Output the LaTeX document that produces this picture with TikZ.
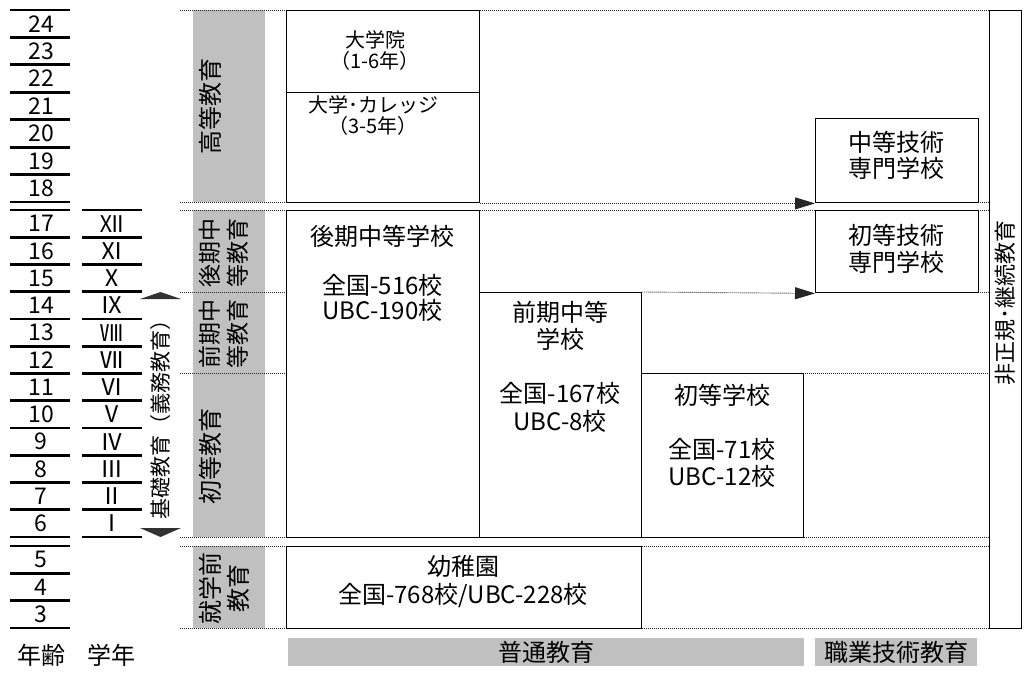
\documentclass[tikz,border=0pt]{standalone}
\usepackage{fontspec}
\setmainfont{Noto Sans CJK JP}
\usetikzlibrary{arrows.meta}
\definecolor{band}{RGB}{192,192,192}
\definecolor{arrowgray}{RGB}{50,50,50}
\begin{document}
\begin{tikzpicture}[x=1pt,y=-1pt,
  box/.style={draw=black,line width=1.4pt,inner sep=0pt,anchor=north west},
  bandbox/.style={fill=band,draw=none,inner sep=0pt,anchor=north west},
  dots/.style={draw=black!85,line width=0.9pt,dash pattern=on 0.9pt off 1.1pt},
  ageline/.style={line width=2.8pt},
  num/.style={font=\fontsize{23}{26}\selectfont,inner sep=0pt},
  txt/.style={font=\fontsize{24}{26.5}\selectfont,align=center,inner sep=0pt},
  smalltxt/.style={font=\fontsize{20}{21}\selectfont,align=center,inner sep=0pt},
  vtxt/.style={font=\fontsize{23}{28}\selectfont,align=center,inner sep=0pt,rotate=90},
  tip/.style={-{Triangle[length=20pt,width=12pt]}}]
\useasboundingbox (0,0) rectangle (1033,675);

% gray bands
\node[bandbox,minimum width=72pt,minimum height=192pt] (bandA) at (193,10) {};
\node[bandbox,minimum width=72pt,minimum height=327pt] (bandB) at (193,210) {};
\node[bandbox,minimum width=72pt,minimum height=82pt] (bandC) at (193,546) {};
\node[bandbox,minimum width=516pt,minimum height=28pt] (bandG) at (288,638) {};
\node[bandbox,minimum width=162pt,minimum height=28pt] (bandV) at (815,638) {};

% age column
\foreach \a [count=\i from 0] in {24,23,22,21,20,19,18}
  \node[num] (age\a) at (41,{10+27.43*(\i+0.5)}) {\a};
\foreach \i in {0,...,7}
  \draw[ageline] (10,{10+27.43*\i}) -- (70,{10+27.43*\i});
\foreach \a [count=\i from 0] in {17,16,15,14,13,12,11,10,9,8,7,6}
  \node[num] (age\a) at (41,{210+27.25*(\i+0.5)}) {\a};
\foreach \g [count=\i from 0] in {Ⅻ,Ⅺ,Ⅹ,Ⅸ,Ⅷ,Ⅶ,Ⅵ,Ⅴ,Ⅳ,Ⅲ,Ⅱ,Ⅰ}
  \node[num] (grade\i) at (112,{210+27.25*(\i+0.5)}) {\g};
\foreach \i in {0,...,12}{
  \draw[ageline] (10,{210+27.25*\i}) -- (70,{210+27.25*\i});
  \draw[ageline] (82,{210+27.25*\i}) -- (142,{210+27.25*\i});}
\foreach \a [count=\i from 0] in {5,4,3}
  \node[num] (age\a) at (41,{546+27.33*(\i+0.5)}) {\a};
\foreach \i in {0,...,3}
  \draw[ageline] (10,{546+27.33*\i}) -- (70,{546+27.33*\i});
\node[txt] (nenrei) at (41,655) {年齢};
\node[txt] (gakunen) at (111,655) {学年};

% compulsory education arrow
\fill[arrowgray] (140,299) -- (181,299) -- (160.5,292) -- cycle;
\fill[arrowgray] (140,528) -- (181,528) -- (160.5,537) -- cycle;
\node[font=\fontsize{21}{24}\selectfont,inner sep=0pt,rotate=90] (kiso) at (160.5,414) {基礎教育（義務教育）};

% dotted guide lines
\draw[dots] (180,10) -- (989,10);
\draw[dots] (180,202) -- (286,202);
\draw[dots] (978,202) -- (989,202);
\draw[dots] (180,210) -- (989,210);
\draw[dots] (180,292) -- (286,292);
\draw[dots] (978,292) -- (989,292);
\draw[dots] (180,373) -- (286,373);
\draw[dots] (803,373) -- (989,373);
\draw[dots] (180,537) -- (989,537);
\draw[dots] (180,546) -- (989,546);
\draw[dots] (180,628) -- (989,628);

% boxes
\node[box,minimum width=193pt,minimum height=82pt] (daigakuin) at (286,10) {};
\node[box,minimum width=193pt,minimum height=110pt] (daigaku) at (286,92) {};
\node[box,minimum width=193pt,minimum height=327pt] (koki) at (286,210) {};
\node[box,minimum width=162pt,minimum height=245pt] (zenki) at (479,292) {};
\node[box,minimum width=162pt,minimum height=164pt] (shoto) at (641,373) {};
\node[box,minimum width=355pt,minimum height=82pt] (youchien) at (286,546) {};
\node[box,minimum width=163pt,minimum height=84pt] (chugi) at (815,118) {};
\node[box,minimum width=163pt,minimum height=82pt] (shogi) at (815,210) {};
\node[box,minimum width=32pt,minimum height=618pt] (hiseiki) at (989,10) {};

% arrows
\draw[dots,tip] (daigaku.south east) -- (chugi.south west);
\draw[dots,tip] (zenki.north east) -- (shogi.south west);

% band labels
\node[vtxt,font=\fontsize{24}{28}\selectfont] (lblA) at (210,106) {高等教育};
\node[vtxt] (lblB) at (224,253) {後期中\\等教育};
\node[vtxt] (lblC) at (224,334) {前期中\\等教育};
\node[vtxt,font=\fontsize{24}{28}\selectfont] (lblD) at (210,456) {初等教育};
\node[vtxt,font=\fontsize{24}{28}\selectfont] (lblE) at (224,588) {就学前\\教育};

% box texts
\node[smalltxt] (tDaigakuin) at (375,51) {大学院\\（1-6年）};
\node[smalltxt] (tDaigaku) at (373,116) {大学･カレッジ\\（3-5年）};
\node[txt,font=\fontsize{24}{24.7}\selectfont] (tKoki) at (382.5,273) {後期中等学校\\[24.7pt]全国-516校\\UBC-190校};
\node[txt,font=\fontsize{24}{27.2}\selectfont] (tZenki) at (560,366.5) {前期中等\\学校\\[27.2pt]全国-167校\\UBC-8校};
\node[txt,font=\fontsize{24}{27}\selectfont] (tShoto) at (722,435.5) {初等学校\\[27pt]全国-71校\\UBC-12校};
\node[txt] (tChugi) at (896.5,155.5) {中等技術\\専門学校};
\node[txt] (tShogi) at (896.5,249) {初等技術\\専門学校};
\node[txt,font=\fontsize{24}{28}\selectfont] (tYouchien) at (463,582) {幼稚園\\全国-768校/UBC-228校};
\node[vtxt,font=\fontsize{22}{24}\selectfont] (tHiseiki) at (1005,303) {非正規･継続教育};

% bottom labels
\node[txt] (tFutsu) at (546,652) {普通教育};
\node[txt] (tShokugyo) at (896,652) {職業技術教育};
\end{tikzpicture}
\end{document}
